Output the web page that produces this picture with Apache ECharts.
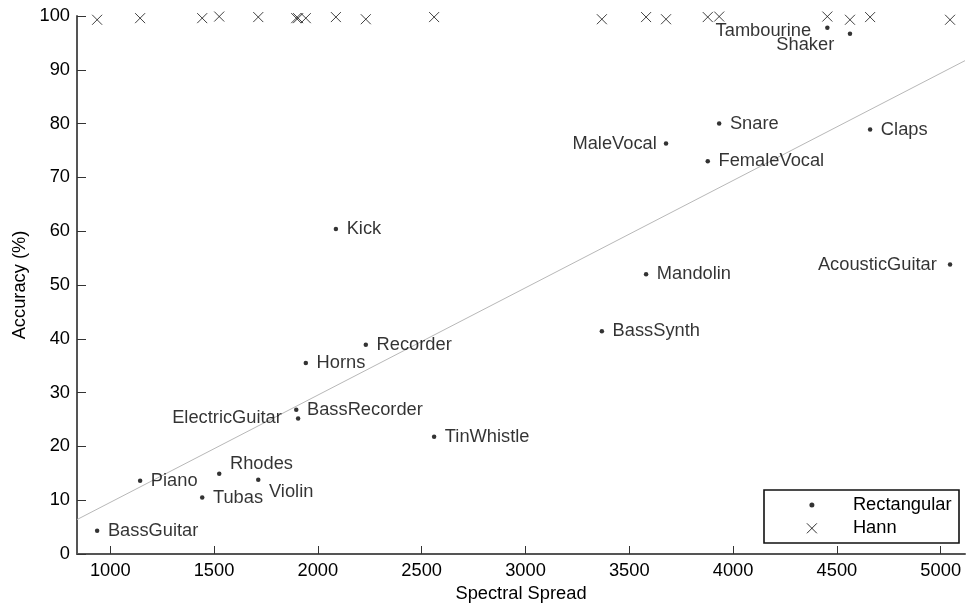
<!DOCTYPE html>
<html>
<head>
<meta charset="utf-8">
<script src="https://cdn.jsdelivr.net/npm/echarts@6/dist/echarts.min.js"></script>
<style>
html,body{margin:0;padding:0;background:#fff;}
#chart{width:966px;height:609px;}
</style>
</head>
<body>
<div id="chart"></div>
<script>
// ---- data ----
const instruments = ['BassGuitar','Piano','Tubas','Rhodes','Violin','BassRecorder','ElectricGuitar','Horns','Kick','Recorder','TinWhistle','BassSynth','Mandolin','MaleVocal','FemaleVocal','Snare','Tambourine','Shaker','Claps','AcousticGuitar'];
const spectralSpread = [937,1144,1443,1525,1713,1896,1905,1942,2087,2231,2560,3368,3581,3677,3878,3933,4454,4563,4660,5045];
const accRectangular = [4.3,13.6,10.5,14.9,13.8,26.8,25.2,35.5,60.4,38.9,21.8,41.4,52.0,76.3,73.0,80.0,97.8,96.7,78.9,53.8];
const accHann = [99.3,99.6,99.6,99.9,99.8,99.6,99.6,99.6,99.8,99.4,99.8,99.4,99.8,99.4,99.8,99.9,99.9,99.3,99.8,99.3];
const trendX = [840,5117];
const trendY = [6.4,91.7];
const xTicks = [1000,1500,2000,2500,3000,3500,4000,4500,5000];

// ---- label placement (style, kept apart from data) ----
const leftLabelGap = {ElectricGuitar:14, MaleVocal:7, AcousticGuitar:11, Tambourine:14, Shaker:13.5};
const labelShift = {Rhodes:[0,-10], Violin:[0,12], Shaker:[0,11], Tambourine:[0,3]};

const FONT = 'Liberation Sans';
const FS = 18.3;
const TXT = '#000';

const rectData = instruments.map((n,i) => {
  const left = leftLabelGap[n] !== undefined;
  return {
    name: n,
    value: [spectralSpread[i], accRectangular[i]],
    label: {
      show: true,
      formatter: n,
      position: left ? 'left' : 'right',
      distance: left ? leftLabelGap[n] : 8.5,
      offset: labelShift[n] || [0,0]
    }
  };
});
const hannData = instruments.map((n,i) => [spectralSpread[i], accHann[i]]);
const trendData = trendX.map((x,i) => [x, trendY[i]]);

const CROSS = 'path://M0 0L10 10M10 0L0 10';

const chart = echarts.init(document.getElementById('chart'));
chart.setOption({
  animation: false,
  backgroundColor: '#fff',
  textStyle: {fontFamily: FONT},
  grid: {left: 77, right: 1, top: 16, bottom: 55, containLabel: false, outerBoundsMode: 'none'},
  xAxis: {
    type: 'value', min: 840, max: 5117,
    name: 'Spectral Spread', nameLocation: 'middle', nameGap: 31,
    nameTextStyle: {fontSize: FS, color: TXT, fontFamily: FONT},
    axisLine: {show: true, onZero: false, lineStyle: {color: '#555', width: 2}},
    axisTick: {show: true, inside: true, length: 8, customValues: xTicks, lineStyle: {color: '#333', width: 1}},
    axisLabel: {customValues: xTicks, margin: 8, fontSize: FS, color: TXT, fontFamily: FONT, formatter: v => String(v)},
    splitLine: {show: false}
  },
  yAxis: {
    type: 'value', min: 0, max: 100, interval: 10,
    name: 'Accuracy (%)', nameLocation: 'middle', nameGap: 45, nameRotate: 90,
    nameTextStyle: {fontSize: FS, color: TXT, fontFamily: FONT},
    axisLine: {show: true, onZero: false, lineStyle: {color: '#555', width: 2}},
    axisTick: {show: true, inside: true, length: 9, lineStyle: {color: '#333', width: 1}},
    axisLabel: {margin: 7, fontSize: FS, color: TXT, fontFamily: FONT},
    splitLine: {show: false}
  },
  legend: [
    {
      data: [{name: 'Rectangular', icon: 'circle', itemStyle: {color: '#000', borderWidth: 0}}],
      left: 809.4, top: 496, padding: 0, orient: 'vertical', align: 'left',
      itemWidth: 36, itemHeight: 5, symbolKeepAspect: true, selectedMode: false,
      textStyle: {fontSize: FS, color: TXT, fontFamily: FONT, lineHeight: 18, padding: [0, 0, 0, 18]}
    },
    {
      data: [{name: 'Hann', icon: CROSS, itemStyle: {color: 'transparent', borderColor: '#000', borderWidth: 1}}],
      left: 806.4, top: 519.3, padding: 0, orient: 'vertical', align: 'left',
      itemWidth: 36, itemHeight: 10, symbolKeepAspect: true, selectedMode: false,
      textStyle: {fontSize: FS, color: TXT, fontFamily: FONT, lineHeight: 18, padding: [0, 0, 0, 18]}
    }
  ],
  graphic: [{
    type: 'rect', z: 10, silent: true,
    shape: {x: 764, y: 490, width: 195, height: 53},
    style: {fill: 'transparent', stroke: '#111', lineWidth: 1.6}
  }],
  series: [
    {
      name: 'Trend', type: 'line', data: trendData, symbol: 'none', silent: true,
      lineStyle: {color: '#b8b8b8', width: 1}, z: 1
    },
    {
      name: 'Rectangular', type: 'scatter', data: rectData,
      symbol: 'circle', symbolSize: 4.5,
      itemStyle: {color: '#000'},
      label: {show: true, fontSize: FS, color: TXT, fontFamily: FONT},
      z: 3
    },
    {
      name: 'Hann', type: 'scatter', data: hannData,
      symbol: CROSS, symbolSize: 10,
      itemStyle: {color: 'transparent', borderColor: '#111', borderWidth: 1},
      z: 3
    }
  ]
});
</script>
</body>
</html>
